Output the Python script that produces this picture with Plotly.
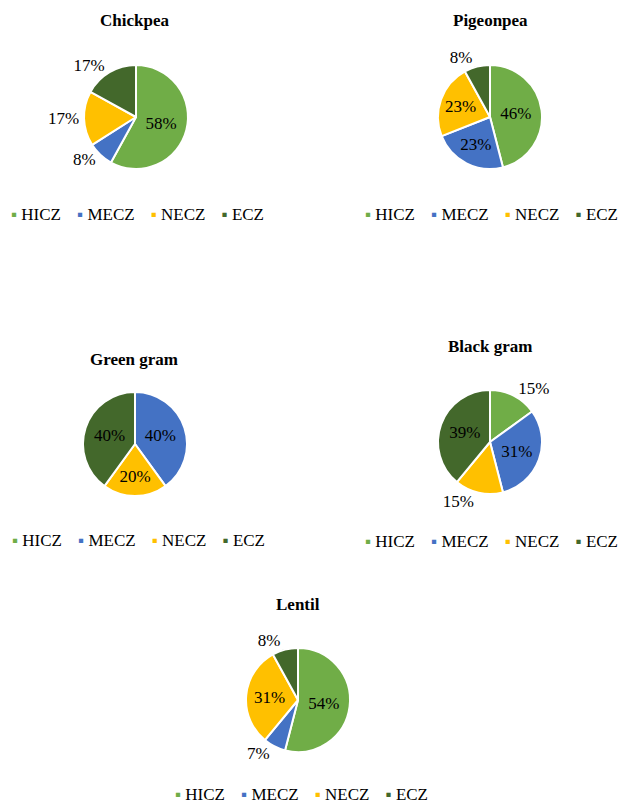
import plotly.graph_objects as go

# ---- data ----
zones = ["HICZ", "MECZ", "NECZ", "ECZ"]
zone_colors = ["#70AD47", "#4472C4", "#FFC000", "#43682B"]

crops = ["Chickpea", "Pigeonpea", "Green gram", "Black gram", "Lentil"]
chickpea = [58, 8, 17, 17]
pigeonpea = [46, 23, 23, 8]
green_gram = [0, 40, 20, 40]
black_gram = [15, 31, 15, 39]
lentil = [54, 7, 31, 8]
crop_values = [chickpea, pigeonpea, green_gram, black_gram, lentil]

# where each slice label sits
chickpea_pos = ["inside", "outside", "outside", "outside"]
pigeonpea_pos = ["inside", "inside", "inside", "outside"]
green_gram_pos = ["none", "inside", "inside", "inside"]
black_gram_pos = ["outside", "inside", "outside", "inside"]
lentil_pos = ["inside", "outside", "inside", "outside"]
crop_pos = [chickpea_pos, pigeonpea_pos, green_gram_pos, black_gram_pos, lentil_pos]

# ---- layout (pixels) ----
W, H = 622, 805
R = 52
panels = [
    dict(cx=136, cy=117, tx=134, ty=21, lx=137, ly=215),
    dict(cx=490, cy=117, tx=490, ty=21, lx=491, ly=215),
    dict(cx=135, cy=444, tx=134, ty=360, lx=138, ly=540),
    dict(cx=490, cy=442, tx=490, ty=346, lx=491, ly=541),
    dict(cx=298, cy=700, tx=298, ty=604, lx=301, ly=794),
]

FONT = "Liberation Serif"
fig = go.Figure()
annotations = []

legend_text = "   \u2009".join(
    f'<span style="color:{c}">▪</span> {z}' for z, c in zip(zones, zone_colors)
)

for crop, vals, pos, p in zip(crops, crop_values, crop_pos, panels):
    fig.add_trace(go.Pie(
        labels=zones,
        values=vals,
        sort=False,
        direction="clockwise",
        rotation=0,
        marker=dict(colors=zone_colors, line=dict(color="white", width=2)),
        texttemplate="%{value}%",
        textposition=pos,
        insidetextorientation="horizontal",
        textfont=dict(family=FONT, size=17, color="black"),
        showlegend=False,
        domain=dict(
            x=[(p["cx"] - R) / W, (p["cx"] + R) / W],
            y=[1 - (p["cy"] + R) / H, 1 - (p["cy"] - R) / H],
        ),
        hoverinfo="label+percent",
    ))
    annotations.append(dict(
        text=f"<b>{crop}</b>", x=p["tx"] / W, y=1 - p["ty"] / H,
        xref="paper", yref="paper", xanchor="center", yanchor="middle",
        showarrow=False, font=dict(family=FONT, size=17, color="black"),
    ))
    annotations.append(dict(
        text=legend_text, x=p["lx"] / W, y=1 - p["ly"] / H,
        xref="paper", yref="paper", xanchor="center", yanchor="middle",
        showarrow=False, font=dict(family=FONT, size=17, color="black"),
    ))

fig.update_layout(
    width=W, height=H,
    margin=dict(l=0, r=0, t=0, b=0),
    paper_bgcolor="white", plot_bgcolor="white",
    font=dict(family=FONT),
    annotations=annotations,
)

fig.write_html("out.html")
